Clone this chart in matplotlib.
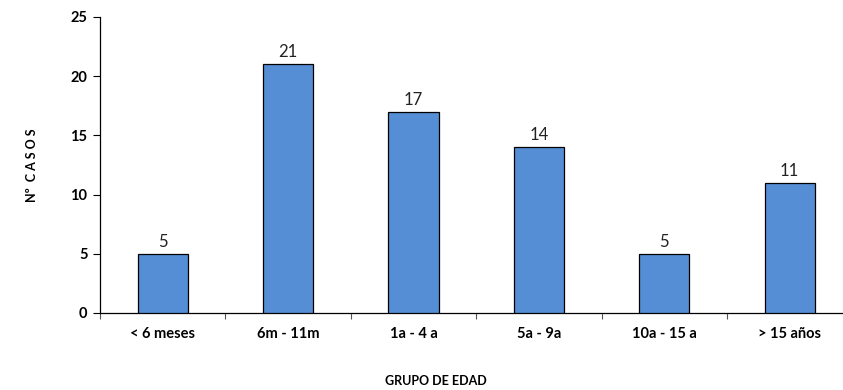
import matplotlib
matplotlib.use("Agg")
import matplotlib.pyplot as plt
import numpy as np

categories = ["< 6 meses", "6m - 11m", "1a - 4 a", "5a - 9a", "10a - 15 a", "> 15 años"]
values = [5, 21, 17, 14, 5, 11]
yticks = [0, 5, 10, 15, 20, 25]

plt.rcParams['font.family'] = ['Lato', 'DejaVu Sans']

W, H = 843, 390
fig = plt.figure(figsize=(W/100, H/100), dpi=100)
left = 100 / W
bottom = (H - 313) / H
top = (H - 17) / H
right = 1.0
ax = fig.add_axes([left, bottom, right - left, top - bottom])

x = np.arange(len(categories))
ax.bar(x, values, width=0.4, color="#558ED5", edgecolor="black", linewidth=0.9, zorder=3)
for xi, v in zip(x, values):
    ax.text(xi, v + 0.35, str(v), ha="center", va="bottom", fontsize=12, color="#222222")

ax.set_yticks(yticks)
ax.set_yticklabels([str(t) for t in yticks], fontsize=10.5, fontweight="bold")

ax.set_xticks(x)
ax.set_xticklabels(categories, fontsize=10.5, fontweight="bold")
ax.tick_params(axis="x", length=0, pad=10)
ax.set_xticks(np.arange(len(categories) + 1) - 0.5, minor=True)
ax.tick_params(axis="x", which="minor", length=4, width=0.8, color="#555555")
ax.tick_params(axis="y", length=5, width=0.8, direction="out", pad=4)

# axis span: category spacing ~125.4 px; axes width 743 px
span = (W - 100) / 125.4
ax.set_xlim(-0.5, -0.5 + span)
ax.set_ylim(0, 25)

for s in ["top", "right"]:
    ax.spines[s].set_visible(False)
ax.spines["left"].set_linewidth(0.9)
ax.spines["bottom"].set_linewidth(0.9)

fig.text(32 / W, 1 - 165 / H, "N\u00ba  C A S O S", rotation=90, ha="center", va="center",
         fontsize=9, fontweight="bold")
fig.text(436 / W, 1 - 381 / H, "GRUPO DE EDAD", ha="center", va="center",
         fontsize=9, fontweight="bold")

fig.savefig("out.png", dpi=100)
